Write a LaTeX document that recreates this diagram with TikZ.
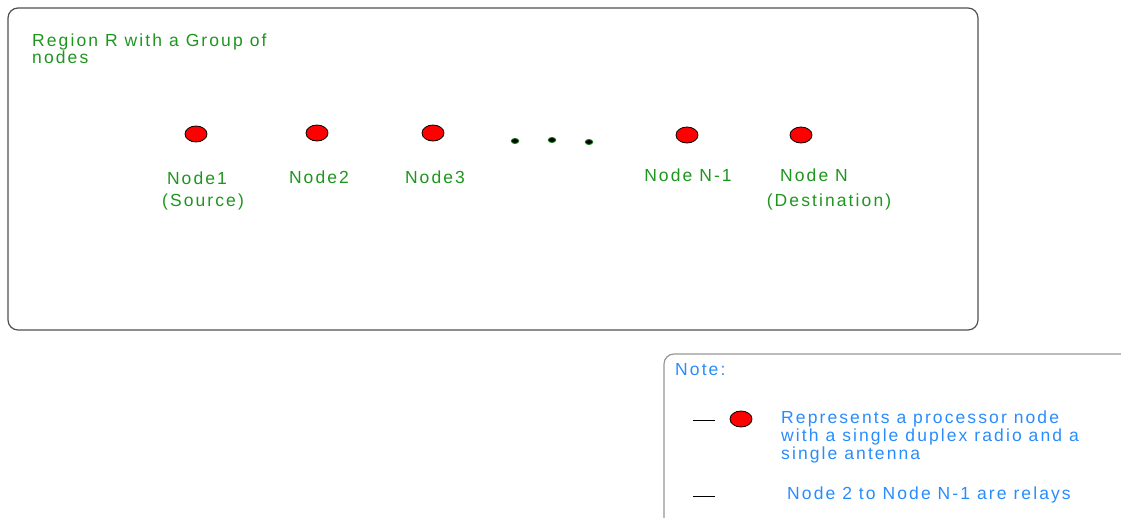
\documentclass[tikz,border=0pt]{standalone}
\usepackage{fontspec}
\setmainfont{Liberation Sans}[LetterSpace=12]
\usetikzlibrary{shapes.geometric}
\definecolor{lblgreen}{RGB}{30,150,30}
\definecolor{noteblue}{RGB}{40,140,255}
\definecolor{boxgray}{RGB}{80,80,80}
\definecolor{notegray}{RGB}{150,150,150}
\begin{document}
\begin{tikzpicture}[x=1pt,y=-1pt,
  netnode/.style={ellipse,draw=black,fill=red,line width=0.8pt,minimum width=22pt,minimum height=16pt,inner sep=0pt},
  gdot/.style={ellipse,draw=lblgreen!80!black,fill=black,line width=0.9pt,minimum width=7.5pt,minimum height=5pt,inner sep=0pt},
  glabel/.style={text=lblgreen,font=\fontsize{17.5}{17}\selectfont,inner sep=0pt},
  blabel/.style={text=noteblue,font=\fontsize{17.5}{18}\selectfont,inner sep=0pt,align=left},
  legline/.style={draw=black,line width=0.8pt}]
\useasboundingbox (0,0) rectangle (1121,517);
% main region box
\draw[boxgray,line width=1.2pt,rounded corners=10pt] (8,8) rectangle (978,330);
\node[glabel,anchor=north west,align=left] (title) at (32,34) {Region R with a Group of\\nodes};
% nodes
\node[netnode] (n1) at (196,134) {};
\node[netnode] (n2) at (317,133) {};
\node[netnode] (n3) at (433,133) {};
\node[netnode] (nm) at (687,135) {};
\node[netnode] (nn) at (801,135) {};
\node[gdot] (d1) at (515,141) {};
\node[gdot] (d2) at (552,140) {};
\node[gdot] (d3) at (589,142) {};
\node[glabel] (l1) at (197,178) {Node1};
\node[glabel] (l1b) at (203,202) {(Source)};
\node[glabel] (l2) at (319,177) {Node2};
\node[glabel] (l3) at (435,177) {Node3};
\node[glabel] (lm) at (688,175) {Node N-1};
\node[glabel] (ln) at (814,175) {Node N};
\node[glabel] (lnb) at (829,202) {(Destination)};
% note box
\draw[notegray,line width=1.2pt,rounded corners=10pt] (1130,354) -- (664,354) -- (664,530);
\node[blabel,anchor=west] (note) at (675,370) {Note:};
\coordinate (a1) at (693,420);
\coordinate (a2) at (715,420);
\draw[legline] (a1) -- (a2);
\node[netnode] (legnode) at (741,419) {};
\node[blabel,anchor=north west] (legtext) at (781,411) {Represents a processor node\\with a single duplex radio and a\\single antenna};
\coordinate (b1) at (693,496);
\coordinate (b2) at (715,496);
\draw[legline] (b1) -- (b2);
\node[blabel,anchor=west] (reltext) at (787,495) {Node 2 to Node N-1 are relays};
\end{tikzpicture}
\end{document}
